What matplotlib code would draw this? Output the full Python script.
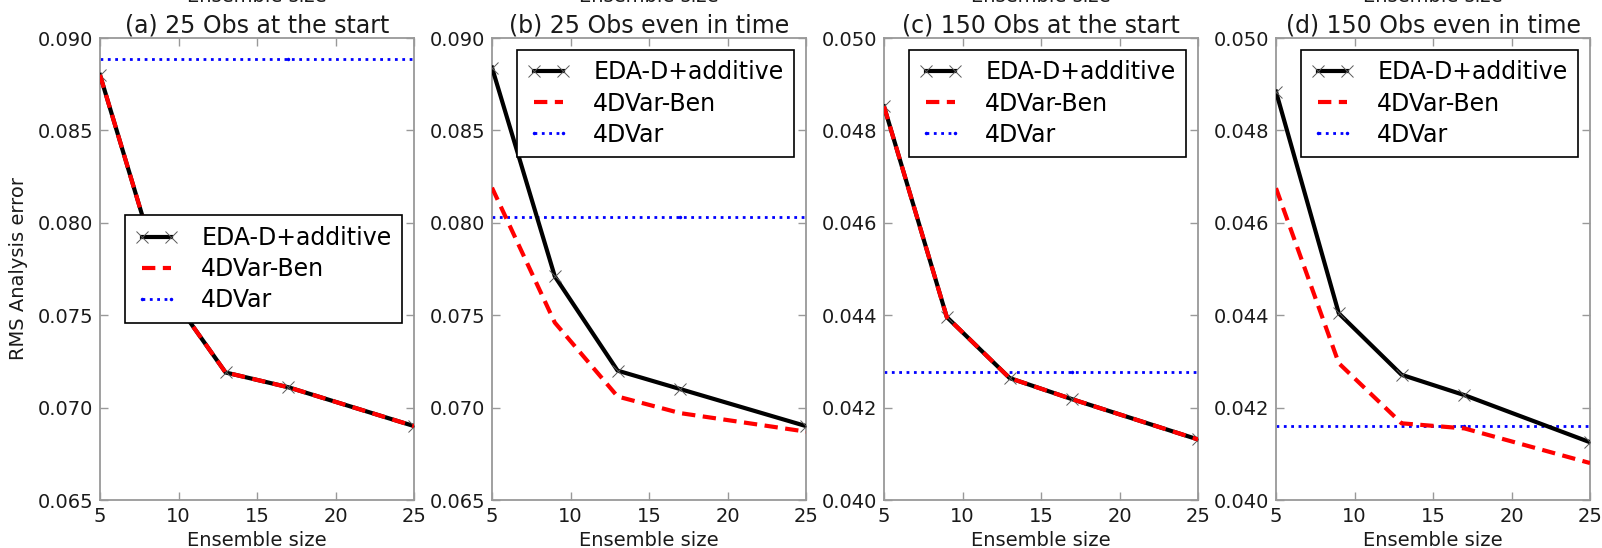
import matplotlib
matplotlib.use("Agg")
import matplotlib.pyplot as plt
from matplotlib.ticker import FormatStrFormatter

# Ensemble sizes tested
ens_sizes = [5, 9, 13, 17, 25]

# RMS analysis error, one list per experiment
eda_a = [0.0880, 0.0767, 0.0719, 0.0711, 0.0690]
ben_a = [0.0880, 0.0767, 0.0719, 0.0711, 0.0690]
var_a = 0.08886

eda_b = [0.0884, 0.0771, 0.0720, 0.0710, 0.0690]
ben_b = [0.0819, 0.0746, 0.0706, 0.0697, 0.0687]
var_b = 0.08034

eda_c = [0.04852, 0.04396, 0.04264, 0.04218, 0.04131]
ben_c = [0.04852, 0.04396, 0.04264, 0.04218, 0.04131]
var_c = 0.04278

eda_d = [0.04884, 0.04404, 0.04271, 0.04227, 0.04125]
ben_d = [0.04675, 0.04296, 0.04166, 0.04155, 0.04080]
var_d = 0.04160

titles = ["(a) 25 Obs at the start", "(b) 25 Obs even in time",
          "(c) 150 Obs at the start", "(d) 150 Obs even in time"]
series_labels = ["EDA-D+additive", "4DVar-Ben", "4DVar"]
x_ticks = [5, 10, 15, 20, 25]
y_ticks_25 = [0.065, 0.070, 0.075, 0.080, 0.085, 0.090]
y_ticks_150 = [0.040, 0.042, 0.044, 0.046, 0.048, 0.050]

panels = [
    (eda_a, ben_a, var_a, y_ticks_25, "center right"),
    (eda_b, ben_b, var_b, y_ticks_25, "upper right"),
    (eda_c, ben_c, var_c, y_ticks_150, "upper right"),
    (eda_d, ben_d, var_d, y_ticks_150, "upper right"),
]

W, H = 1602, 548
fig = plt.figure(figsize=(W / 100, H / 100), dpi=100)

lefts = [100, 492, 884, 1276]
ax_w = 314
top_px, bottom_px = 38, 500

spine_col = "0.6"
text_col = "0.1"

for i, (eda, ben, var, yt, loc) in enumerate(panels):
    ax = fig.add_axes([lefts[i] / W, (H - bottom_px) / H, ax_w / W,
                       (bottom_px - top_px) / H])
    ax.plot(ens_sizes, eda, color="black", lw=3, marker="x", ms=9,
            mew=0.7, mec="0.35", label=series_labels[0], zorder=3)
    ax.plot(ens_sizes, ben, color="red", lw=3, dashes=(3.2, 1.8),
            label=series_labels[1], zorder=4)
    ax.plot(ens_sizes, [var] * len(ens_sizes), color="blue", lw=2,
            ls=":", marker=".", ms=3, markevery=[3],
            label=series_labels[2], zorder=2)

    ax.set_xlim(x_ticks[0], x_ticks[-1])
    ax.set_ylim(yt[0], yt[-1])
    ax.set_xticks(x_ticks)
    ax.set_yticks(yt)
    ax.yaxis.set_major_formatter(FormatStrFormatter("%.3f"))
    ax.tick_params(direction="in", length=6, width=1, color=spine_col,
                   labelsize=14, labelcolor=text_col, top=True, right=True,
                   pad=5)
    for s in ax.spines.values():
        s.set_color(spine_col)
        s.set_linewidth(1.3)

    ax.set_title(titles[i], fontsize=17, color=text_col, pad=4)
    ax.set_xlabel("Ensemble size", fontsize=14, color=text_col, labelpad=4)
    if i == 0:
        ax.set_ylabel("RMS Analysis error", fontsize=14, color=text_col,
                      labelpad=7)

    leg = ax.legend(loc=loc, fontsize=17, numpoints=2, fancybox=False,
                    frameon=True, framealpha=1.0, borderaxespad=0.5,
                    handlelength=1.8, handletextpad=1.0, labelspacing=0.3,
                    borderpad=0.45)
    leg.get_frame().set_edgecolor("black")
    leg.get_frame().set_linewidth(1.2)

    # axis label of the row above, showing at the top edge
    cx = (lefts[i] + ax_w / 2) / W
    fig.text(cx, 1 - 2 / H, "Ensemble size", fontsize=14, color=text_col,
             ha="center", va="baseline")

fig.savefig("out.png", dpi=100)
